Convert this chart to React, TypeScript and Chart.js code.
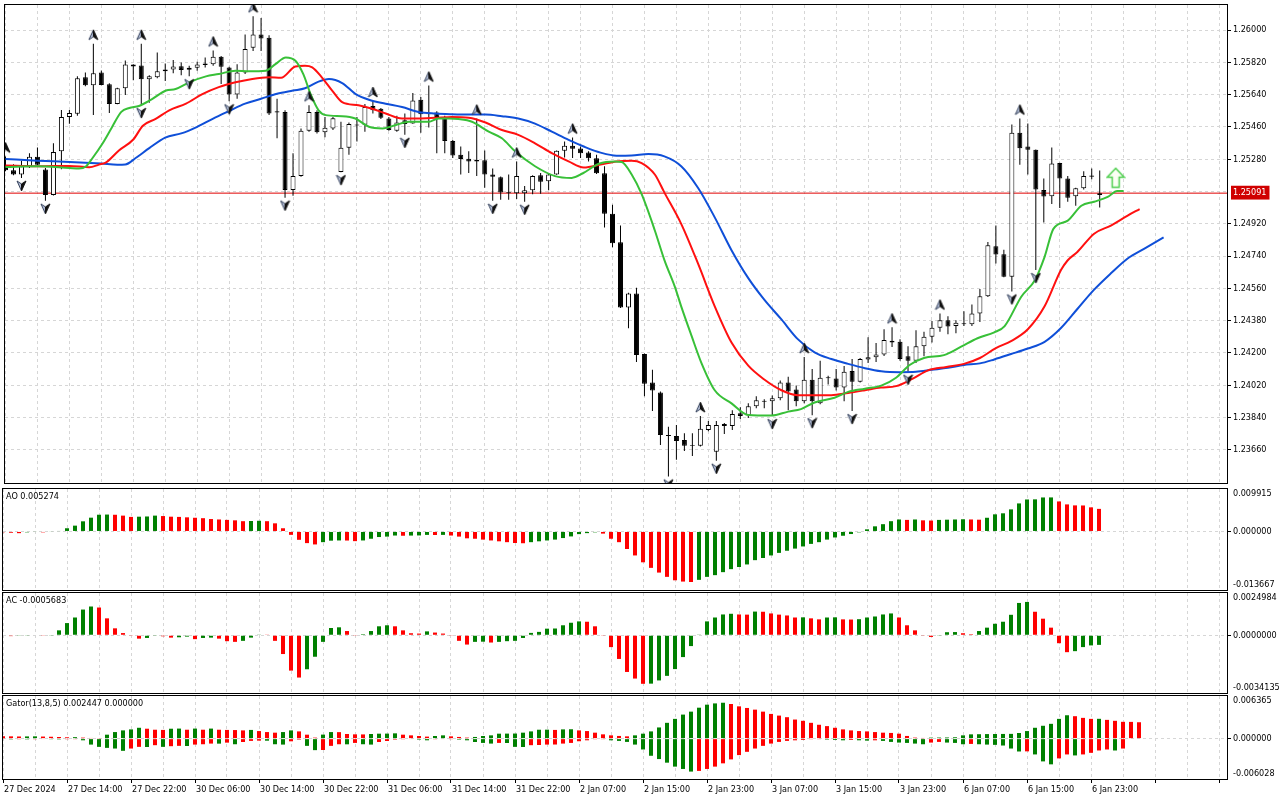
import React, { useEffect, useRef } from "react";
import { Chart, registerables } from "chart.js";

Chart.register(...registerables);

// ---------------- data ----------------
const timeLabels = [
  "27 Dec 2024", "27 Dec 14:00", "27 Dec 22:00", "30 Dec 06:00", "30 Dec 14:00", "30 Dec 22:00",
  "31 Dec 06:00", "31 Dec 14:00", "31 Dec 22:00", "2 Jan 07:00", "2 Jan 15:00", "2 Jan 23:00",
  "3 Jan 07:00", "3 Jan 15:00", "3 Jan 23:00", "6 Jan 07:00", "6 Jan 15:00", "6 Jan 23:00",
];

const priceAxisTicks = [1.26, 1.2582, 1.2564, 1.2546, 1.2528, 1.251, 1.2492, 1.2474, 1.2456, 1.2438, 1.242, 1.2402, 1.2384, 1.2366];
const priceAxisLabels = ["1.26000", "1.25820", "1.25640", "1.25460", "1.25280", "", "1.24920", "1.24740", "1.24560", "1.24380", "1.24200", "1.24020", "1.23840", "1.23660"];
const lastPrice = 1.25091;
const priceRange = [1.23475, 1.2614];

const opens = [
  1.25231, 1.25219, 1.25195, 1.25241, 1.25294, 1.25223, 1.25081, 1.25324, 1.25516, 1.25533,
  1.25737, 1.25693, 1.25764, 1.25698, 1.25588, 1.25676, 1.25808, 1.25803, 1.25726, 1.25737,
  1.2577, 1.25781, 1.25799, 1.25779, 1.2579, 1.25814, 1.2581, 1.25852, 1.25792, 1.25641,
  1.25764, 1.25902, 1.25975, 1.25957, 1.25547, 1.25544, 1.25109, 1.25186, 1.25439, 1.25544,
  1.2543, 1.25452, 1.25209, 1.25344, 1.25468, 1.25472, 1.25577, 1.25562, 1.25507, 1.25439,
  1.25498, 1.2548, 1.25612, 1.25538, 1.2554, 1.25516, 1.25382, 1.25305, 1.25283, 1.25276,
  1.25274, 1.25195, 1.2518, 1.25096, 1.25091, 1.25091, 1.25107, 1.25191, 1.25158, 1.25195,
  1.25327, 1.25355, 1.2534, 1.25318, 1.25285, 1.25202, 1.24976, 1.24817, 1.24453, 1.24531,
  1.24194, 1.24035, 1.2398, 1.23742, 1.23737, 1.23715, 1.23687, 1.23682, 1.2377, 1.23649,
  1.23793, 1.23793, 1.23864, 1.23853, 1.23903, 1.23933, 1.23931, 1.23947, 1.24035, 1.23996,
  1.23931, 1.24051, 1.2392, 1.24065, 1.24057, 1.24007, 1.241, 1.2404, 1.24163, 1.24176,
  1.24191, 1.24268, 1.24262, 1.24182, 1.24157, 1.24237, 1.2429, 1.24341, 1.24383, 1.2435,
  1.24365, 1.2436, 1.2442, 1.24516, 1.24795, 1.2475, 1.24625, 1.25428, 1.25351, 1.25333,
  1.25109, 1.25074, 1.25259, 1.25173, 1.25074, 1.25118, 1.2519, 1.2508,
];
const highs = [
  1.25296, 1.25252, 1.25272, 1.25314, 1.25346, 1.25231, 1.25369, 1.25555, 1.25555, 1.25743,
  1.25764, 1.25924, 1.25775, 1.25704, 1.25678, 1.2583, 1.2581, 1.25924, 1.25749, 1.25875,
  1.25814, 1.25834, 1.25819, 1.25801, 1.25823, 1.25847, 1.25887, 1.25856, 1.25796, 1.2581,
  1.25975, 1.26077, 1.26067, 1.25972, 1.25617, 1.25553, 1.25314, 1.25452, 1.25581, 1.25553,
  1.25516, 1.25516, 1.25489, 1.25485, 1.25516, 1.25588, 1.25605, 1.25566, 1.25516, 1.25522,
  1.25535, 1.25649, 1.25627, 1.25691, 1.25548, 1.25522, 1.25388, 1.25351, 1.25324, 1.25507,
  1.25329, 1.25228, 1.25184, 1.25195, 1.25268, 1.25131, 1.25191, 1.25204, 1.25204, 1.25329,
  1.25379, 1.25401, 1.25351, 1.25324, 1.25305, 1.25241, 1.25026, 1.2491, 1.24536, 1.24563,
  1.24197, 1.24106, 1.23985, 1.23788, 1.23799, 1.23753, 1.23753, 1.23848, 1.23821, 1.23821,
  1.2381, 1.23881, 1.23898, 1.2392, 1.23958, 1.23942, 1.23963, 1.24046, 1.24067, 1.24018,
  1.24177, 1.24111, 1.24156, 1.24073, 1.24111, 1.24128, 1.24166, 1.24172, 1.24288, 1.24255,
  1.24332, 1.24343, 1.24277, 1.24238, 1.24327, 1.24318, 1.24378, 1.2442, 1.24405, 1.24383,
  1.24433, 1.2447, 1.24556, 1.24818, 1.2491, 1.24776, 1.25474, 1.25507, 1.2548, 1.25335,
  1.25173, 1.25346, 1.2526, 1.25186, 1.25121, 1.25213, 1.25228, 1.25217,
];
const lows = [
  1.25213, 1.25191, 1.25176, 1.25231, 1.25246, 1.25048, 1.25078, 1.25224, 1.25478, 1.25522,
  1.25687, 1.25527, 1.25693, 1.25538, 1.25586, 1.25638, 1.2572, 1.25582, 1.25595, 1.25731,
  1.25716, 1.2576, 1.25749, 1.25743, 1.25774, 1.25792, 1.25801, 1.257, 1.25603, 1.25617,
  1.25755, 1.25884, 1.25884, 1.25527, 1.25397, 1.25066, 1.25076, 1.25182, 1.25434, 1.25424,
  1.25402, 1.25443, 1.25208, 1.25305, 1.25379, 1.25434, 1.25535, 1.25504, 1.25439, 1.25434,
  1.25416, 1.25478, 1.25428, 1.25457, 1.25314, 1.25314, 1.25287, 1.25195, 1.25204, 1.25186,
  1.25121, 1.25048, 1.25054, 1.25054, 1.25059, 1.25043, 1.25085, 1.25087, 1.25107, 1.25193,
  1.2529, 1.25287, 1.25287, 1.25268, 1.25198, 1.24899, 1.24789, 1.2445, 1.24338, 1.24149,
  1.23958, 1.23876, 1.23687, 1.23511, 1.23604, 1.23654, 1.23626, 1.23679, 1.23764, 1.23599,
  1.23748, 1.2377, 1.23832, 1.23837, 1.23892, 1.23892, 1.23848, 1.23936, 1.23881, 1.23903,
  1.2392, 1.23853, 1.23914, 1.24024, 1.23991, 1.23931, 1.23876, 1.24035, 1.24144, 1.24149,
  1.24183, 1.24233, 1.24157, 1.24095, 1.24144, 1.24182, 1.24259, 1.24318, 1.24305, 1.2431,
  1.2435, 1.2435, 1.24372, 1.24512, 1.24699, 1.24622, 1.24543, 1.2525, 1.25195, 1.24662,
  1.24928, 1.2503, 1.25008, 1.25043, 1.25021, 1.25112, 1.25168, 1.25011,
];
const closes = [
  1.25219, 1.25195, 1.25241, 1.25294, 1.2525, 1.25081, 1.2532, 1.25516, 1.25538, 1.25731,
  1.25693, 1.25759, 1.25694, 1.25588, 1.25676, 1.25808, 1.25797, 1.25726, 1.25743, 1.2577,
  1.25781, 1.25797, 1.25777, 1.2579, 1.25808, 1.25805, 1.25852, 1.25796, 1.25641, 1.25764,
  1.25895, 1.25975, 1.25953, 1.25535, 1.25541, 1.25109, 1.25186, 1.25439, 1.25544, 1.2543,
  1.25455, 1.25509, 1.25344, 1.25476, 1.25474, 1.25571, 1.25553, 1.25511, 1.25443, 1.25485,
  1.25476, 1.25608, 1.25531, 1.25531, 1.25516, 1.25382, 1.25301, 1.25281, 1.25268, 1.25268,
  1.25195, 1.25182, 1.25094, 1.25091, 1.25187, 1.25107, 1.25187, 1.25154, 1.25195, 1.25327,
  1.25355, 1.25338, 1.25313, 1.25285, 1.25202, 1.24976, 1.24811, 1.24453, 1.24531, 1.24189,
  1.24029, 1.23991, 1.23742, 1.23737, 1.23709, 1.23682, 1.23682, 1.23777, 1.23799, 1.23799,
  1.23804, 1.23859, 1.23848, 1.23903, 1.23936, 1.23928, 1.23947, 1.24035, 1.23985, 1.23931,
  1.24051, 1.23931, 1.24062, 1.24059, 1.24007, 1.24095, 1.2404, 1.24166, 1.24176, 1.24191,
  1.24272, 1.24259, 1.24166, 1.24157, 1.24237, 1.2429, 1.24341, 1.24383, 1.24347, 1.24369,
  1.2436, 1.2442, 1.24516, 1.248, 1.24749, 1.24625, 1.25428, 1.25342, 1.25333, 1.25112,
  1.25072, 1.25257, 1.25173, 1.25066, 1.25118, 1.25186, 1.25182, 1.25091,
];

// Alligator lines: [bar, price]
const jawLine = [
  [0, 1.25281], [4, 1.25272], [8, 1.25265], [12, 1.25256], [14, 1.2525], [15, 1.25251], [16.3, 1.25287], [18, 1.25342],
  [20, 1.25401], [22, 1.25424], [24, 1.25461], [26, 1.25507], [28, 1.25549], [30, 1.2559], [32, 1.25617], [34, 1.25645],
  [36, 1.25663], [37.5, 1.25676], [39.2, 1.25713], [40.5, 1.25727], [42.15, 1.25705], [43.8, 1.25645], [45.5, 1.25612],
  [47.6, 1.2559], [49.65, 1.25571], [51.7, 1.25544], [53.8, 1.25535], [55.9, 1.25531], [58, 1.25529], [60.1, 1.25529],
  [62.15, 1.2552], [64.2, 1.25507], [66.3, 1.25479], [68.4, 1.25434], [70.5, 1.25388], [72.4, 1.25351], [74.5, 1.25317],
  [76.5, 1.253], [78.4, 1.25301], [80.5, 1.25309], [82.5, 1.25296], [84.6, 1.25241], [86.7, 1.25121], [88.8, 1.24956],
  [90.9, 1.24773], [93, 1.24617], [95, 1.24497], [97.15, 1.24387], [99.2, 1.24277], [101.3, 1.24203], [103.4, 1.24166],
  [105.5, 1.24139], [107.6, 1.24115], [109.65, 1.24098], [112, 1.24093], [114, 1.24095], [116, 1.24106], [118, 1.24117],
  [120, 1.24133], [122, 1.24142], [123.8, 1.24164], [125.9, 1.24194], [128, 1.24225], [130.1, 1.24262], [132.15, 1.24339],
  [134.2, 1.24445], [136.3, 1.24553], [138.4, 1.24644], [140.5, 1.24727], [142.6, 1.24782], [145, 1.24844],
];
const teethLine = [
  [0, 1.25245], [4, 1.25241], [8, 1.25243], [10.5, 1.25235], [11.7, 1.2525], [12.6, 1.25263], [14.2, 1.25329], [16, 1.2539],
  [17.2, 1.25467], [18.8, 1.25505], [20.5, 1.25553], [22.6, 1.2559], [24.65, 1.25643], [26.7, 1.25682], [28.8, 1.25709],
  [30.9, 1.25728], [33, 1.25737], [34.5, 1.25734], [36.3, 1.25797], [37.5, 1.25801], [38.4, 1.25792], [39.6, 1.25737],
  [40.9, 1.25663], [42.15, 1.25599], [44.2, 1.25581], [45.9, 1.25562], [47.6, 1.25535], [49.65, 1.25507], [51.7, 1.25507],
  [53.8, 1.25511], [55.9, 1.25516], [58, 1.25512], [60.1, 1.25485], [62.15, 1.25443], [64.2, 1.25416], [66.3, 1.25369],
  [68.4, 1.25314], [70.5, 1.25268], [72.4, 1.25234], [74.5, 1.2525], [76.5, 1.25268], [78.4, 1.25272], [79.65, 1.25259],
  [81.3, 1.25195], [82.5, 1.25094], [84.6, 1.2492], [86.7, 1.24699], [88.8, 1.2446], [90.9, 1.24258], [93, 1.24129],
  [95, 1.24052], [97.15, 1.23992], [99.2, 1.23964], [101.3, 1.23964], [103.4, 1.23964], [105.5, 1.23977], [107.6, 1.23992],
  [109.6, 1.24007], [111.5, 1.24015], [113.6, 1.24057], [115.5, 1.24103], [117.8, 1.24122], [120, 1.24139], [122, 1.24172],
  [124, 1.24227], [125.9, 1.24266], [128, 1.24332], [130.1, 1.2446], [132.15, 1.24662], [133, 1.24717], [134.2, 1.24763],
  [136.3, 1.24865], [138.4, 1.2491], [140.5, 1.24966], [142, 1.25002],
];
const lipsLine = [
  [0, 1.25237], [4, 1.25241], [8, 1.25231], [9.2, 1.25228], [10.1, 1.25241], [10.9, 1.25287], [12.15, 1.25368], [13.3, 1.25456],
  [14.5, 1.25544], [15.5, 1.25566], [16.7, 1.25577], [18.4, 1.25617], [20.1, 1.25663], [21.3, 1.25672], [23, 1.25709],
  [25.1, 1.25742], [26.7, 1.25755], [28.8, 1.25774], [30.5, 1.2577], [32.6, 1.25774], [33.8, 1.2581], [35.1, 1.25847],
  [36.3, 1.25829], [37.3, 1.25753], [38.2, 1.25643], [39.2, 1.25553], [40.1, 1.25526], [42.15, 1.2552], [43.8, 1.25507],
  [45.5, 1.25461], [47.2, 1.25452], [48.9, 1.25471], [50.5, 1.25489], [53, 1.25489], [54.2, 1.25507], [55.5, 1.25507],
  [56.7, 1.25504], [58.4, 1.25489], [60.5, 1.25434], [62.15, 1.25397], [63.8, 1.25324], [66.3, 1.25241], [68.8, 1.25186],
  [70.9, 1.25176], [72.3, 1.25202], [74.3, 1.25255], [76.3, 1.25268], [77.15, 1.25265], [78.4, 1.25195], [79.65, 1.25085],
  [81.3, 1.24883], [82.5, 1.24718], [83.8, 1.2457], [84.6, 1.2446], [85.9, 1.24295], [87.1, 1.24148], [88.8, 1.23992],
  [90.9, 1.23919], [93, 1.23854], [95.9, 1.23851], [98, 1.23873], [99.6, 1.23887], [101.3, 1.23924], [103.8, 1.2395],
  [105.5, 1.23983], [107.6, 1.24001], [109.65, 1.24018], [111.5, 1.24062], [113.2, 1.24133], [115, 1.24172], [117.5, 1.24188],
  [119.65, 1.24235], [121.7, 1.24282], [123.8, 1.24315], [125.1, 1.2435], [127.2, 1.24515], [128.9, 1.24607], [130.1, 1.24736],
  [131.2, 1.24892], [133, 1.24938], [134.7, 1.25021], [136.3, 1.25043], [138, 1.2507], [139.2, 1.25103], [140, 1.25103],
];

const upFractalBars = [0, 11, 17, 26, 31, 38, 46, 53, 59, 64, 71, 87, 100, 111, 117, 127];
const downFractalBars = [2, 5, 17, 23, 28, 35, 42, 50, 61, 65, 83, 89, 96, 101, 106, 113, 126, 129];
const signalArrow = [139, 1.25177];

const aoTitle = "AO 0.005274";
const aoRange = [-0.013667, 0.009915];
const aoTickLabels = ["-0.013667", "0.000000", "0.009915"];
const aoValues = [
  -0.0002, -0.0003, -0.0004, -0.0002, -0.0001, -0.0002, -0.0001, 0.0001, 0.00075, 0.00136,
  0.00237, 0.00322, 0.00391, 0.00395, 0.0039, 0.0037, 0.0034, 0.00345, 0.0035, 0.0037,
  0.0036, 0.00345, 0.0034, 0.0033, 0.0032, 0.0031, 0.0029, 0.0028, 0.0027, 0.0026,
  0.0024, 0.00245, 0.0025, 0.0024, 0.0019, 0.00075, -0.00079, -0.00195, -0.00272, -0.00303,
  -0.0025, -0.00215, -0.0021, -0.00212, -0.00226, -0.0021, -0.0017, -0.0013, -0.0012, -0.00095,
  -0.001, -0.00096, -0.00093, -0.0008, -0.00082, -0.0008, -0.00095, -0.0012, -0.0016, -0.0017,
  -0.0019, -0.0021, -0.0023, -0.0025, -0.0027, -0.00275, -0.0025, -0.0023, -0.0021, -0.0019,
  -0.00154, -0.00116, -0.00062, -0.00039, -0.0002, -0.0005, -0.0017, -0.0025, -0.0041, -0.0056,
  -0.0072, -0.0085, -0.0096, -0.0106, -0.0114, -0.0117, -0.0118, -0.0113, -0.0106, -0.0102,
  -0.0095, -0.0088, -0.0083, -0.0077, -0.0067, -0.0062, -0.0056, -0.005, -0.0045, -0.004,
  -0.0035, -0.0029, -0.0025, -0.0019, -0.0014, -0.001, -0.0006, -0.0002, 0.0005, 0.0012,
  0.0017, 0.0024, 0.0028, 0.0027, 0.0028, 0.0026, 0.00255, 0.0027, 0.00275, 0.0028,
  0.00285, 0.0028, 0.00275, 0.0032, 0.004, 0.00424, 0.00516, 0.00655, 0.00747, 0.0075,
  0.00794, 0.00795, 0.00701, 0.00632, 0.00609, 0.00607, 0.00563, 0.005274,
];

const acTitle = "AC -0.0005683";
const acRange = [-0.0034135, 0.0024984];
const acTickLabels = ["-0.0034135", "0.0000000", "0.0024984"];
const acValues = [
  -0.00003, -0.00005, -0.00004, -0.00002, -0.00003, -0.00004, -0.00002, 0.00029, 0.00072, 0.00105,
  0.00152, 0.0017, 0.00164, 0.001, 0.00041, 0.00013, -0.00004, -0.0002, -0.00016, -0.00004,
  -0.00006, -0.00014, -0.00012, -0.00008, -0.00023, -0.00016, -0.00014, -0.0002, -0.00035, -0.00039,
  -0.00033, -0.00014, 0.00004, 0.00002, -0.00033, -0.00111, -0.00209, -0.0025, -0.00201, -0.00127,
  -0.00039, 0.00043, 0.00047, 0.00025, -0.00004, 0.00006, 0.00025, 0.00053, 0.00059, 0.00053,
  0.00029, 0.00012, 0.0001, 0.00023, 0.00016, 0.0001, -0.00004, -0.00033, -0.00055, -0.00039,
  -0.00038, -0.00043, -0.00039, -0.00035, -0.00033, -0.00016, 0.00014, 0.0002, 0.00039, 0.0004,
  0.00059, 0.00074, 0.00082, 0.0008, 0.00053, -0.00004, -0.0007, -0.0014, -0.00217, -0.00256,
  -0.00287, -0.00286, -0.00267, -0.0024, -0.002, -0.00129, -0.00064, 0.00004, 0.00082, 0.00105,
  0.00123, 0.00127, 0.00123, 0.00122, 0.0014, 0.00139, 0.00129, 0.00122, 0.00117, 0.00105,
  0.00106, 0.001, 0.00094, 0.00105, 0.00106, 0.00094, 0.00093, 0.00095, 0.00105, 0.00111,
  0.00123, 0.00129, 0.00105, 0.00059, 0.00029, -0.00004, -0.0001, -0.00004, 0.00018, 0.00019,
  0.00012, 0.00006, 0.00025, 0.00045, 0.00068, 0.0008, 0.00121, 0.00191, 0.00197, 0.00139,
  0.00098, 0.00045, -0.00047, -0.001, -0.00094, -0.0007, -0.0006, -0.0005683,
];

const gatorTitle = "Gator(13,8,5) 0.002447 0.000000";
const gatorRange = [-0.006028, 0.006365];
const gatorTickLabels = ["-0.006028", "0.000000", "0.006365"];
const gatorUpper = [
  0.00036, 0.00034, 0.00032, 0.00033, 0.00034, 0.00031, 0.00028, 0.00024, 0.0002, 0.00022,
  0.00015, 0.0001, 0.00005, 0.00059, 0.00098, 0.00123, 0.00138, 0.00162, 0.00148, 0.00133,
  0.0013, 0.00148, 0.0015, 0.00133, 0.0015, 0.00133, 0.0015, 0.00133, 0.0013, 0.00128,
  0.00123, 0.0013, 0.00113, 0.00098, 0.00089, 0.00098, 0.00123, 0.00108, 0.00059, 0.00015,
  0.0006, 0.00098, 0.00097, 0.00069, 0.00064, 0.00063, 0.00069, 0.00074, 0.00075, 0.00079,
  0.00059, 0.00049, 0.00039, 0.0003, 0.00039, 0.00049, 0.00034, 0.00025, 0.00015, 0.00025,
  0.00039, 0.00049, 0.00074, 0.00075, 0.00076, 0.00089, 0.00108, 0.00133, 0.00134, 0.0013,
  0.00138, 0.0014, 0.00123, 0.00113, 0.00089, 0.00064, 0.00049, 0.0004, 0.00034, 0.00049,
  0.00074, 0.00108, 0.00167, 0.00236, 0.00295, 0.00359, 0.00403, 0.00462, 0.00507, 0.00526,
  0.00536, 0.00517, 0.00482, 0.00458, 0.00433, 0.00403, 0.00369, 0.00344, 0.0032, 0.00285,
  0.00266, 0.00236, 0.00207, 0.00187, 0.00162, 0.00138, 0.00123, 0.00113, 0.00108, 0.00098,
  0.00089, 0.00085, 0.00074, 0.0004, 0.00015, 0.0001, 0.00015, 0.00016, 0.00017, 0.0002,
  0.00049, 0.00064, 0.00066, 0.00068, 0.00069, 0.0007, 0.00071, 0.00084, 0.00113, 0.00162,
  0.00192, 0.00221, 0.00295, 0.00349, 0.00335, 0.0031, 0.00295, 0.00296, 0.0028, 0.00266,
  0.00251, 0.0025, 0.002447,
];
const gatorLower = [
  -0.0001, -0.00012, -0.0001, -0.00012, -0.0001, -0.00008, -0.0001, -0.00012, -0.0001, -0.00005,
  -0.00025, -0.00089, -0.00123, -0.00138, -0.00148, -0.00182, -0.00148, -0.00123, -0.00125, -0.00098,
  -0.00123, -0.00113, -0.00108, -0.0011, -0.00089, -0.00084, -0.00074, -0.00075, -0.0006, -0.00084,
  -0.0005, -0.00034, -0.0003, -0.00031, -0.00084, -0.00089, -0.0004, -0.00015, -0.00108, -0.00172,
  -0.0017, -0.00108, -0.00084, -0.00085, -0.00064, -0.00084, -0.00089, -0.0005, -0.00035, -0.00015,
  -0.0001, -0.00008, -0.00015, -0.00025, -0.0001, -0.00008, -0.00005, -0.00015, -0.00025, -0.0005,
  -0.00064, -0.00074, -0.00064, -0.00065, -0.00123, -0.00125, -0.00098, -0.00095, -0.00089, -0.00088,
  -0.00074, -0.00064, -0.00039, -0.00025, -0.0001, -0.00005, -0.00025, -0.00034, -0.00049, -0.00089,
  -0.00162, -0.00256, -0.00305, -0.00359, -0.00418, -0.00453, -0.00492, -0.00482, -0.00453, -0.00418,
  -0.00369, -0.0031, -0.00246, -0.00197, -0.00148, -0.00108, -0.00074, -0.00049, -0.00034, -0.00025,
  -0.0002, -0.0001, -0.00005, -0.00015, -0.0002, -0.00025, -0.0002, -0.00025, -0.0003, -0.00025,
  -0.00034, -0.00049, -0.00059, -0.00064, -0.00074, -0.00084, -0.00059, -0.00049, -0.00059, -0.00064,
  -0.00084, -0.00079, -0.00084, -0.00089, -0.00093, -0.00103, -0.00148, -0.00192, -0.0019, -0.00236,
  -0.0034, -0.00384, -0.00295, -0.00236, -0.00251, -0.00236, -0.00212, -0.00177, -0.00162, -0.00177,
  -0.00148,
];

// ---------------- styling ----------------
const FONT_FAMILY = '"DejaVu Sans Condensed", "Liberation Sans", Arial, sans-serif';
const GRID_COLOR = "#d6d6d6";
const UP_COLOR = "#008000";
const DOWN_COLOR = "#ff0000";
const CLEAR = "rgba(0,0,0,0)";
const VISIBLE_BARS = 153;
const gridBars = Array.from({ length: 39 }, (_, k) => k * 4);

const framePlugin = {
  id: "panelFrame",
  afterDraw(chart: any) {
    const { ctx, chartArea: a } = chart;
    ctx.save();
    ctx.strokeStyle = "#000";
    ctx.lineWidth = 1;
    ctx.setLineDash([]);
    ctx.strokeRect(Math.round(a.left) - 0.5, Math.round(a.top) - 0.5, Math.round(a.right - a.left) + 1, Math.round(a.bottom - a.top) + 1);
    ctx.restore();
  },
};

function xAxis(min: number, withLabels: boolean): any {
  return {
    type: "linear",
    offset: false,
    min,
    max: min + VISIBLE_BARS,
    afterBuildTicks: (s: any) => {
      s.ticks = gridBars.map((v) => ({ value: v }));
    },
    afterFit: (s: any) => {
      s.height = withLabels ? 21 : 0;
      s.paddingLeft = 0;
      s.paddingRight = 0;
    },
    grid: {
      offset: false,
      color: GRID_COLOR,
      lineWidth: 1,
      drawTicks: withLabels,
      tickLength: 4,
      tickColor: (c: any) => (c.tick && c.tick.value % 8 === 0 ? "#000" : CLEAR),
    },
    border: { display: false, dash: [3, 3] },
    ticks: {
      display: withLabels,
      autoSkip: false,
      maxRotation: 0,
      minRotation: 0,
      align: "start",
      padding: 1,
      labelOffset: 1,
      color: "#000",
      font: { family: FONT_FAMILY, size: 9 },
      callback: (v: number) => (v % 8 === 0 && timeLabels[v / 8] ? timeLabels[v / 8] : ""),
    },
  };
}

function indicatorY(range: number[], labels: string[], panelHeight: number): any {
  const inset = ((range[1] - range[0]) * 5) / panelHeight;
  const values = [range[0] + inset, 0, range[1] - inset];
  return {
    position: "right",
    min: range[0],
    max: range[1],
    afterBuildTicks: (s: any) => {
      s.ticks = values.map((v) => ({ value: v }));
    },
    afterFit: (s: any) => {
      s.width = 53;
      s.paddingTop = 0;
      s.paddingBottom = 0;
    },
    grid: {
      color: (c: any) => (c.index === 1 ? GRID_COLOR : CLEAR),
      tickLength: 4,
      tickColor: (c: any) => (c.index === 1 ? "#000" : CLEAR),
    },
    border: { display: false, dash: [3, 3] },
    ticks: {
      padding: 2,
      color: "#000",
      font: { family: FONT_FAMILY, size: 9 },
      callback: (_v: number, i: number) => labels[i],
    },
  };
}

function trendColors(values: number[]): string[] {
  return values.map((v, i) => (i > 0 && Math.abs(v) > Math.abs(values[i - 1]) ? UP_COLOR : DOWN_COLOR));
}
function aoColors(values: number[]): string[] {
  return values.map((v, i) => (i > 0 && v > values[i - 1] ? UP_COLOR : DOWN_COLOR));
}

function makeFractal(up: boolean, offset: number): HTMLCanvasElement {
  const w = 11;
  const h = (offset + 7) * 2;
  const c = document.createElement("canvas");
  c.width = w;
  c.height = h;
  const g = c.getContext("2d") as CanvasRenderingContext2D;
  const cx = w / 2;
  const cy = up ? h / 2 - offset : h / 2 + offset;
  const s = up ? 1 : -1;
  g.beginPath();
  g.moveTo(cx, cy - 5 * s);
  g.lineTo(cx - 4.5, cy + 5 * s);
  g.lineTo(cx, cy + 2 * s);
  g.closePath();
  g.fillStyle = "#b8c3dc";
  g.fill();
  g.strokeStyle = "#33405a";
  g.lineWidth = 1;
  g.stroke();
  g.beginPath();
  g.moveTo(cx, cy - 5 * s);
  g.lineTo(cx + 4.5, cy + 5 * s);
  g.lineTo(cx, cy + 2 * s);
  g.closePath();
  g.fillStyle = "#101010";
  g.fill();
  g.strokeStyle = "#101010";
  g.stroke();
  return c;
}

function makeSignalArrow(): HTMLCanvasElement {
  const c = document.createElement("canvas");
  c.width = 20;
  c.height = 22;
  const g = c.getContext("2d") as CanvasRenderingContext2D;
  g.beginPath();
  g.moveTo(10, 1.5);
  g.lineTo(18.5, 10.5);
  g.lineTo(13.5, 10.5);
  g.lineTo(13.5, 20.5);
  g.lineTo(6.5, 20.5);
  g.lineTo(6.5, 10.5);
  g.lineTo(1.5, 10.5);
  g.closePath();
  g.fillStyle = "#fbfff4";
  g.fill();
  g.strokeStyle = "#4fcf4f";
  g.lineWidth = 1.5;
  g.stroke();
  return c;
}

const baseOptions = (padBottom: number): any => ({
  animation: false,
  responsive: false,
  maintainAspectRatio: false,
  devicePixelRatio: 1,
  events: [],
  layout: { padding: { left: 3, right: 0, top: 2, bottom: padBottom } },
  plugins: { legend: { display: false }, tooltip: { enabled: false }, title: { display: false } },
});

export default function App() {
  const mainRef = useRef<HTMLCanvasElement>(null);
  const aoRef = useRef<HTMLCanvasElement>(null);
  const acRef = useRef<HTMLCanvasElement>(null);
  const gatorRef = useRef<HTMLCanvasElement>(null);

  useEffect(() => {
    Chart.defaults.font.family = FONT_FAMILY;
    Chart.defaults.font.size = 9;
    const charts: any[] = [];
    const bars = opens.map((_, i) => i);
    const upImg = makeFractal(true, 9);
    const downImg = makeFractal(false, 8);
    const sigImg = makeSignalArrow();
    const lineDs = (data: number[][], color: string, order: number) => ({
      type: "line",
      data: data.map(([x, y]) => ({ x, y })),
      borderColor: color,
      borderWidth: 2,
      pointRadius: 0,
      cubicInterpolationMode: "monotone",
      order,
    });

    if (mainRef.current) {
      charts.push(
        new Chart(mainRef.current, {
          type: "bar",
          data: {
            datasets: [
              {
                type: "line",
                data: [{ x: -2, y: lastPrice }, { x: 160, y: lastPrice }],
                borderColor: "#e00000",
                borderWidth: 1,
                pointRadius: 0,
                order: 9,
              },
              {
                type: "bar",
                data: bars.map((i) => ({ x: i, y: [lows[i], highs[i]] })),
                backgroundColor: "#000",
                barThickness: 1,
                grouped: false,
                inflateAmount: 0,
                order: 8,
              },
              {
                type: "bar",
                data: bars.map((i) => ({ x: i, y: [opens[i], closes[i]] })),
                backgroundColor: bars.map((i) => (closes[i] > opens[i] ? "#ffffff" : "#000000")),
                borderColor: "#000",
                borderWidth: 1,
                borderSkipped: false,
                barThickness: 5,
                grouped: false,
                inflateAmount: 0,
                order: 7,
              },
              lineDs(jawLine, "#0f4fd8", 3),
              lineDs(teethLine, "#ff1010", 2),
              lineDs(lipsLine, "#38c038", 1),
              {
                type: "line",
                showLine: false,
                data: upFractalBars.map((i) => ({ x: i, y: highs[i] })),
                pointStyle: upImg,
                pointRadius: 4,
                order: 0,
              },
              {
                type: "line",
                showLine: false,
                data: downFractalBars.map((i) => ({ x: i, y: lows[i] })),
                pointStyle: downImg,
                pointRadius: 4,
                order: 0,
              },
              {
                type: "line",
                showLine: false,
                data: [{ x: signalArrow[0], y: signalArrow[1] }],
                pointStyle: sigImg,
                pointRadius: 4,
                order: 0,
              },
            ],
          } as any,
          options: {
            ...baseOptions(2),
            scales: {
              x: xAxis(-0.0625, false),
              y: {
                position: "right",
                min: priceRange[0],
                max: priceRange[1],
                afterBuildTicks: (s: any) => {
                  s.ticks = [...priceAxisTicks, lastPrice].map((v) => ({ value: v }));
                },
                afterFit: (s: any) => {
                  s.width = 53;
                  s.paddingTop = 0;
                  s.paddingBottom = 0;
                },
                grid: {
                  color: (c: any) => (c.tick && c.tick.value === lastPrice ? CLEAR : GRID_COLOR),
                  tickLength: 4,
                  tickColor: (c: any) =>
                    c.tick && (c.tick.value === lastPrice || priceAxisLabels[c.index] === "") ? CLEAR : "#000",
                },
                border: { display: false, dash: [3, 3] },
                ticks: {
                  padding: 2,
                  color: (c: any) => (c.tick && c.tick.value === lastPrice ? "#ffffff" : "#000000"),
                  font: { family: FONT_FAMILY, size: 9 },
                  callback: (_v: number, i: number) => (i < priceAxisLabels.length ? priceAxisLabels[i] : lastPrice.toFixed(5)),
                  showLabelBackdrop: (c: any) => !!c.tick && c.tick.value === lastPrice,
                  backdropColor: "#d00000",
                  backdropPadding: { top: 2, bottom: 1, left: 2, right: 3 },
                },
              },
            },
          } as any,
          plugins: [framePlugin],
        } as any)
      );
    }

    const histogram = (values: number[], colors: string[]) => ({
      type: "bar",
      data: values.map((v, i) => ({ x: i, y: v })),
      backgroundColor: colors,
      barThickness: 4,
      grouped: false,
      inflateAmount: 0,
      borderWidth: 0,
    });

    if (aoRef.current) {
      charts.push(
        new Chart(aoRef.current, {
          type: "bar",
          data: { datasets: [histogram(aoValues, aoColors(aoValues))] } as any,
          options: { ...baseOptions(2), scales: { x: xAxis(0, false), y: indicatorY(aoRange, aoTickLabels, 101) } } as any,
          plugins: [framePlugin],
        } as any)
      );
    }
    if (acRef.current) {
      charts.push(
        new Chart(acRef.current, {
          type: "bar",
          data: { datasets: [histogram(acValues, aoColors(acValues))] } as any,
          options: { ...baseOptions(2), scales: { x: xAxis(0, false), y: indicatorY(acRange, acTickLabels, 100) } } as any,
          plugins: [framePlugin],
        } as any)
      );
    }
    if (gatorRef.current) {
      charts.push(
        new Chart(gatorRef.current, {
          type: "bar",
          data: {
            datasets: [histogram(gatorUpper, trendColors(gatorUpper)), histogram(gatorLower, trendColors(gatorLower))],
          } as any,
          options: { ...baseOptions(0), scales: { x: xAxis(0, true), y: indicatorY(gatorRange, gatorTickLabels, 83) } } as any,
          plugins: [framePlugin],
        } as any)
      );
    }
    return () => charts.forEach((c) => c.destroy());
  }, []);

  const canvasStyle = (top: number, height: number): React.CSSProperties => ({
    position: "absolute",
    left: 0,
    top,
    width: 1280,
    height,
    display: "block",
  });
  const titleStyle = (top: number): React.CSSProperties => ({
    position: "absolute",
    left: 6,
    top,
    fontFamily: FONT_FAMILY,
    fontSize: 9,
    lineHeight: "11px",
    color: "#000",
    whiteSpace: "nowrap",
  });

  return (
    <div style={{ position: "absolute", left: 0, top: 0, width: 1280, height: 800, background: "#ffffff", overflow: "hidden" }}>
      <canvas ref={mainRef} width={1280} height={488} style={canvasStyle(0, 488)} />
      <canvas ref={aoRef} width={1280} height={105} style={canvasStyle(487, 105)} />
      <canvas ref={acRef} width={1280} height={104} style={canvasStyle(591, 104)} />
      <canvas ref={gatorRef} width={1280} height={106} style={canvasStyle(694, 106)} />
      <div style={titleStyle(491)}>{aoTitle}</div>
      <div style={titleStyle(595)}>{acTitle}</div>
      <div style={titleStyle(698)}>{gatorTitle}</div>
    </div>
  );
}
